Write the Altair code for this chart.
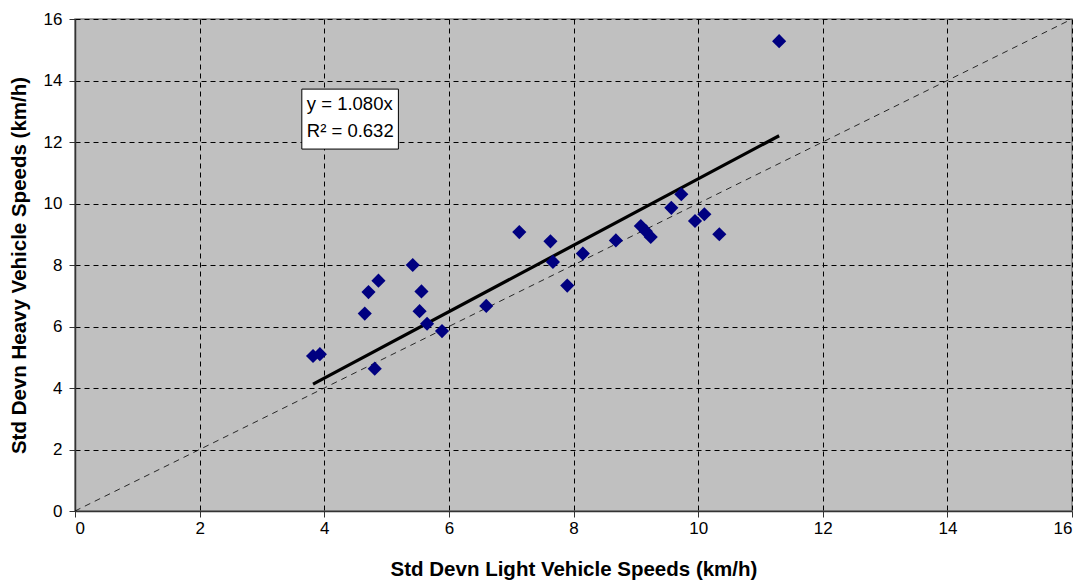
import altair as alt
import pandas as pd

# Standard deviation of speeds per site (km/h)
light_sd = [3.82, 3.93, 4.65, 4.71, 4.87, 4.81, 5.42, 5.56, 5.53, 5.65, 5.89, 6.60,
            7.13, 7.63, 7.67, 7.90, 8.15, 8.68, 9.08, 9.16, 9.24, 9.57, 9.73, 9.95,
            10.10, 10.34, 11.30]
heavy_sd = [5.04, 5.10, 6.42, 7.12, 7.49, 4.63, 8.00, 7.14, 6.50, 6.09, 5.85, 6.67,
            9.07, 8.77, 8.10, 7.33, 8.37, 8.80, 9.27, 9.10, 8.91, 9.86, 10.30, 9.43,
            9.65, 9.00, 15.28]

slope = 1.080
r_squared = 0.632
axis_ticks = [0, 2, 4, 6, 8, 10, 12, 14, 16]

points = pd.DataFrame({"light": light_sd, "heavy": heavy_sd})
trend = pd.DataFrame({"light": [min(light_sd), max(light_sd)]})
trend["heavy"] = slope * trend["light"]
equal = pd.DataFrame({"light": [0, 16], "heavy": [0, 16]})

label_box = pd.DataFrame({"x1": [3.64], "x2": [5.19], "y1": [11.77], "y2": [13.72]})
label_text = pd.DataFrame({
    "x": [3.72],
    "y": [13.25],
    "t": [[f"y = {slope:.3f}x", f"R\u00b2 = {r_squared:.3f}"]],
})

font = "Liberation Sans"

xscale = alt.Scale(domain=[0, 16], nice=False, zero=True)
yscale = alt.Scale(domain=[0, 16], nice=False, zero=True)

xaxis = alt.Axis(
    title="Std Devn Light Vehicle Speeds (km/h)", values=axis_ticks, format="d",
    grid=True, gridColor="black", gridDash=[5, 4], gridWidth=1,
    domainColor="#333333", domainWidth=1.5, tickColor="#333333", tickSize=6,
    labelFont=font, labelFontSize=17, labelColor="black", labelPadding=3,
    titleFont=font, titleFontSize=20.5, titleFontWeight="bold", titleColor="black",
    titlePadding=23,
)
yaxis = alt.Axis(
    title="Std Devn Heavy Vehicle Speeds (km/h)", values=axis_ticks, format="d",
    grid=True, gridColor="black", gridDash=[5, 4], gridWidth=1,
    domainColor="#333333", domainWidth=1.5, tickColor="#333333", tickSize=6,
    labelFont=font, labelFontSize=17, labelColor="black", labelPadding=7,
    titleFont=font, titleFontSize=20.5, titleFontWeight="bold", titleColor="black",
    titlePadding=14,
)

diag = alt.Chart(equal).mark_line(
    color="black", strokeWidth=0.8, strokeDash=[6, 5], clip=True
).encode(
    x=alt.X("light:Q", scale=xscale, axis=xaxis),
    y=alt.Y("heavy:Q", scale=yscale, axis=yaxis),
)

fit = alt.Chart(trend).mark_line(color="black", strokeWidth=3.2).encode(
    x=alt.X("light:Q", scale=xscale),
    y=alt.Y("heavy:Q", scale=yscale),
)

dots = alt.Chart(points).mark_point(
    shape="diamond", filled=True, size=200, color="#000080", opacity=1
).encode(
    x=alt.X("light:Q", scale=xscale),
    y=alt.Y("heavy:Q", scale=yscale),
)

box = alt.Chart(label_box).mark_rect(
    fill="white", stroke="black", strokeWidth=1
).encode(
    x=alt.X("x1:Q", scale=xscale), x2="x2:Q",
    y=alt.Y("y1:Q", scale=yscale), y2="y2:Q",
)

txt = alt.Chart(label_text).mark_text(
    align="left", baseline="middle", font=font, fontSize=18.5, color="black", lineHeight=27
).encode(
    x=alt.X("x:Q", scale=xscale),
    y=alt.Y("y:Q", scale=yscale),
    text="t",
)

chart = alt.layer(diag, fit, dots, box, txt).properties(
    width=997, height=492,
    autosize=alt.AutoSizeParams(type="none"),
    padding={"left": 75, "top": 19, "right": 18, "bottom": 70},
    background="white",
).configure_view(
    fill="#C0C0C0", stroke="#808080", strokeWidth=1.5
)

chart.save("out.html", embed_options={"renderer": "svg", "actions": False})
